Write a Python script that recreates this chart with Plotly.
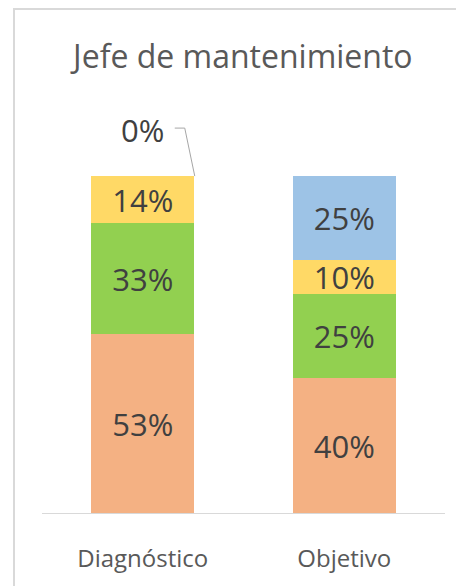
import plotly.graph_objects as go

categories = ["Diagnóstico", "Objetivo"]
series_names = ["S1", "S2", "S3", "S4"]
s1_values = [0.53, 0.40]   # orange
s2_values = [0.33, 0.25]   # green
s3_values = [0.14, 0.10]   # yellow
s4_values = [0.00, 0.25]   # blue
colors = ["#F4B183", "#92D050", "#FFD966", "#9DC3E6"]
title_text = "Jefe de mantenimiento"

FONT = "Open Sans"
series = [s1_values, s2_values, s3_values, s4_values]

fig = go.Figure()
for name, vals, col in zip(series_names, series, colors):
    texts = [f"{round(v*100)}%" if v > 0 else "" for v in vals]
    fig.add_trace(go.Bar(
        x=categories, y=vals, name=name,
        marker=dict(color=col, line=dict(width=0)),
        text=texts, textposition="inside", insidetextanchor="middle",
        textangle=0, constraintext="none",
        textfont=dict(family=FONT, size=31, color="#404040"),
        hoverinfo="skip",
    ))

# zero-value label with leader line
total_diag = s1_values[0] + s2_values[0] + s3_values[0] + s4_values[0]
fig.add_annotation(
    x=0, y=total_diag, xref="x", yref="y",
    text=f"{round(s4_values[0]*100)}%", showarrow=False,
    yshift=46,
    font=dict(family=FONT, size=31, color="#404040"),
)
fig.add_shape(
    type="path", xref="x", yref="y",
    xsizemode="pixel", ysizemode="pixel",
    xanchor=0, yanchor=total_diag,
    path="M 52,0 L 42,48 L 32,48",
    line=dict(color="#A6A6A6", width=1),
)

# outer chart frame (cropped)
fig.add_shape(type="path", xref="paper", yref="paper",
              path="M -0.0695,-0.3 L -0.0695,1.1507 L 1.1,1.1507",
              line=dict(color="#D9D9D9", width=2))

fig.update_layout(
    width=456, height=578,
    margin=dict(l=34, r=19, t=67, b=73),
    title=dict(text=title_text, x=0.515, xanchor="center",
               y=0.915, yanchor="middle", yref="container",
               font=dict(family=FONT, size=32, color="#595959")),
    barmode="stack", bargap=0.49,
    showlegend=False,
    paper_bgcolor="white", plot_bgcolor="white",
    xaxis=dict(showline=True, linecolor="#D9D9D9", linewidth=1,
               showgrid=False, ticks="", ticklabelstandoff=24,
               tickfont=dict(family=FONT, size=24, color="#595959")),
    yaxis=dict(range=[0, 1.3], visible=False, showgrid=False),
)

fig.write_html("out.html")
